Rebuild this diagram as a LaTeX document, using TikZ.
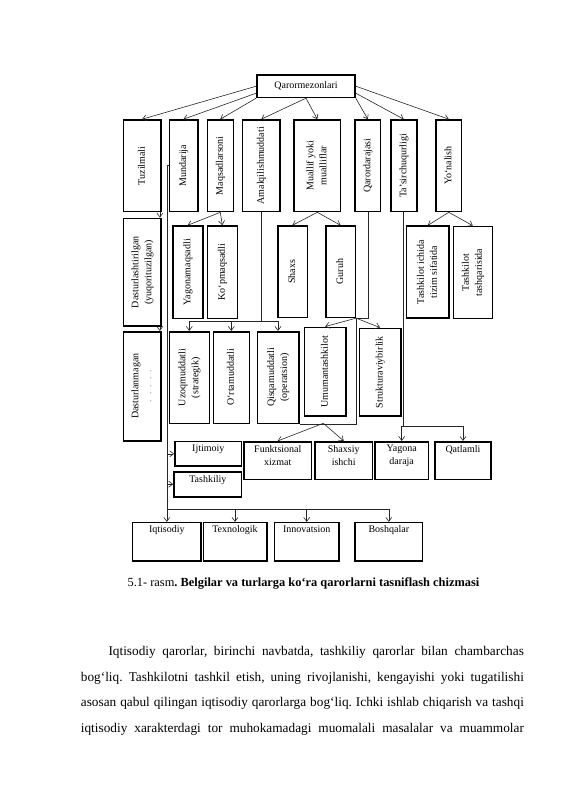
\documentclass[tikz,border=0pt]{standalone}
\usepackage{fontspec}
\setmainfont{Liberation Serif}
\usetikzlibrary{arrows.meta}
\newcommand{\vtxt}[1]{\rotatebox{90}{\begin{tabular}{@{}c@{}}#1\end{tabular}}}
\begin{document}
\frenchspacing
\begin{tikzpicture}[x=1pt, y=-1pt,
  box/.style={draw=black, line width=1.6pt, inner sep=0pt, font=\fontsize{10}{13}\selectfont},
  toptext/.style={anchor=north, align=center, inner sep=0pt, yshift=-4pt, font=\fontsize{10}{13}\selectfont},
  lnk/.style={draw=black!85, line width=0.6pt},
  >={Straight Barb[length=4pt,width=6pt]}]
\useasboundingbox (0,0) rectangle (565,800);
% mezonlar
\node[box, minimum width=98pt, minimum height=22.3pt] (qm) at (306,86.2) {Qarormezonlari};
\node[box, minimum width=37.7pt, minimum height=91.5pt] (tuz) at (142.2,165.75) {\vtxt{Tuzilmali}};
\node[box, minimum width=28.4pt, minimum height=91.5pt] (mund) at (183.5,165.75) {\vtxt{Mundarija}};
\node[box, minimum width=26pt, minimum height=91.5pt] (maq) at (220.3,165.75) {\vtxt{Maqsadlarsoni}};
\node[box, minimum width=37.3pt, minimum height=91.5pt] (amal) at (261.3,165.75) {\vtxt{Amalqilishmuddati}};
\node[box, minimum width=46.7pt, minimum height=91.5pt] (mua) at (317.3,165.75) {\vtxt{Muallif yoki\\mualliflar}};
\node[box, minimum width=25.7pt, minimum height=91.5pt] (qd) at (367.8,165.75) {\vtxt{Qarordarajasi}};
\node[box, minimum width=26pt, minimum height=91.5pt] (ts) at (403.7,165.75) {\vtxt{Ta'sirchuqurligi}};
\node[box, minimum width=25.7pt, minimum height=91.5pt] (yn) at (448.8,165.75) {\vtxt{Yo‘nalish}};
% ikkinchi qator
\node[box, minimum width=37.7pt, minimum height=107.7pt] (dast) at (142.2,272.2) {\vtxt{Dasturlashtirilgan\\(yuqorituzilgan)}};
\node[box, minimum width=30pt, minimum height=92.3pt] (yag) at (187.7,272.2) {\vtxt{Yagonamaqsadli}};
\node[box, minimum width=30pt, minimum height=92.3pt] (kop) at (222.3,272.2) {\vtxt{Ko‘pmaqsadli}};
\node[box, minimum width=29.6pt, minimum height=91.3pt] (shaxs) at (292.5,271.7) {\vtxt{Shaxs}};
\node[box, minimum width=29.6pt, minimum height=91.3pt] (guruh) at (340.5,271.7) {\vtxt{Guruh}};
\node[box, minimum width=42.3pt, minimum height=92pt] (ich) at (427.8,272.2) {\vtxt{Tashkilot ichida\\tizim sifatida}};
\node[box, minimum width=39pt, minimum height=92pt] (tash) at (472.8,272.5) {\vtxt{Tashkilot\\tashqarisida}};
% uchinchi qator
\node[box, minimum width=37.7pt, minimum height=109pt] (dn) at (142.2,386.2) {\vtxt{Dasturlanmagan\\\textcolor{black!45}{.~~.~~.~~.~~.}}};
\node[box, minimum width=40pt, minimum height=91.6pt] (uzoq) at (189.3,377.5) {\vtxt{Uzoqmuddatli\\(strategik)}};
\node[box, minimum width=36pt, minimum height=91.6pt] (ortam) at (231.3,377.5) {\vtxt{O‘rtamuddatli}};
\node[box, minimum width=41.4pt, minimum height=91.6pt] (qisqa) at (278,377.5) {\vtxt{Qisqamuddatli\\(operatsion)}};
\node[box, minimum width=41.7pt, minimum height=88.7pt] (umum) at (325.2,371.7) {\vtxt{Umumantashkilot}};
\node[box, minimum width=41.4pt, minimum height=87.7pt] (struk) at (380,372.2) {\vtxt{Strukturaviybirlik}};
% to'rtinchi qator
\node[box, minimum width=66.7pt, minimum height=24.3pt, label={[toptext]north:Ijtimoiy}] (ijt) at (208.3,453.8) {};
\node[box, minimum width=67.7pt, minimum height=25pt, label={[toptext]north:Tashkiliy}] (tk) at (207.8,484.2) {};
\node[box, minimum width=67.7pt, minimum height=37.6pt, label={[toptext]north:Funktsional\\xizmat}] (fx) at (277.8,460.5) {};
\node[box, minimum width=57.3pt, minimum height=37.6pt, label={[toptext]north:Shaxsiy\\ishchi}] (shi) at (343.7,460.5) {};
\node[box, minimum width=53.3pt, minimum height=37.6pt, label={[toptext]north:Yagona\\daraja}] (yd) at (401.7,460.5) {};
\node[box, minimum width=56pt, minimum height=37.6pt, label={[toptext]north:Qatlamli}] (qat) at (463,460.5) {};
% beshinchi qator
\node[box, minimum width=68.3pt, minimum height=38.3pt, label={[toptext]north:Iqtisodiy}] (iqt) at (166.8,541.8) {};
\node[box, minimum width=63.4pt, minimum height=38.3pt, label={[toptext]north:Texnologik}] (tex) at (235,541.8) {};
\node[box, minimum width=64.7pt, minimum height=38.3pt, label={[toptext]north:Innovatsion}] (inn) at (306.7,541.8) {};
\node[box, minimum width=67.7pt, minimum height=38.3pt, label={[toptext]north:Boshqalar}] (bq) at (388.8,541.8) {};
% strelkalar
\draw [lnk,->] (qm.west) -- (tuz.north);
\draw [lnk,->] (qm.188) -- (mund.north);
\draw [lnk,->] (qm.south west) -- (maq.north);
\draw [lnk,->] (qm.south) -- (amal.north);
\draw [lnk,->] (qm.south) -- (mua.north);
\draw [lnk,->] (qm.south east) -- (qd.north);
\draw [lnk,->] (qm.-8) -- (ts.north);
\draw [lnk,->] (qm.east) -- (yn.north);
\draw [lnk,->] ([xshift=-2pt]tuz.south east) -- ([xshift=-2pt]dast.north east);
\draw [lnk,->] ([xshift=-2pt]dast.south east) -- ([xshift=-2pt]dn.north east);
\draw [lnk,->] (maq.south) -- (yag.north);
\draw [lnk,->] (maq.south) -- (kop.north);
\coordinate (amj) at (261.3,321);
\draw [lnk] (amal.south) -- (amj);
\draw [lnk,->] (amj) -| (uzoq.north);
\draw [lnk,->] (amj) -| (ortam.north);
\draw [lnk,->] (amj) -| (qisqa.north);
\draw [lnk,->] (mua.south) -- (shaxs.north);
\draw [lnk,->] (mua.south) -- (guruh.north);
\draw [lnk] (qd.south) |- (guruh.south east) -- (guruh.south east |- qisqa.south east) -- (qisqa.south east);
\draw [lnk,->] (guruh.south east) -- (umum.north);
\draw [lnk,->] (guruh.south east) -- (struk.north);
\coordinate (qj) at (323.3,423.3);
\draw [lnk,->] (qj) -- (fx.north);
\draw [lnk,->] (qj) -- (shi.north);
\coordinate (tsj) at (403.7,426);
\draw [lnk] (ts.south) -- (tsj);
\draw [lnk,->] (tsj) -| (yd.north);
\draw [lnk,->] (tsj) -| (qat.north);
\draw [lnk,->] (yn.south) -- (ich.north);
\draw [lnk,->] (yn.south) -- (tash.north);
\draw [lnk,->] (mund.west) -| (iqt.north);
\draw [lnk,->] (ijt.west -| iqt.north) -- (ijt.west);
\draw [lnk,->] (tk.west -| iqt.north) -- (tk.west);
\coordinate (bj) at (166.8,509.3);
\draw [lnk,->] (bj) -| (tex.north);
\draw [lnk,->] (bj) -| (inn.north);
\draw [lnk,->] (bj) -| (bq.north);
% matn
\node[anchor=base, inner sep=0pt, font=\fontsize{12.4}{14}\selectfont] (cap) at (303.5,586) {5.1- rasm\textbf{. Belgilar va turlarga ko‘ra qarorlarni tasniflash chizmasi}};
\node[anchor=north west, text width=443pt, align=justify, inner sep=0pt, font=\fontsize{13.3}{25.7}\selectfont] (matn) at (80.7,646) {\parfillskip=0pt\hspace*{27.6pt}Iqtisodiy qarorlar, birinchi navbatda, tashkiliy qarorlar bilan chambarchas\linebreak bog`liq. Tashkilotni tashkil etish, uning rivojlanishi, kengayishi yoki tugatilishi\linebreak asosan qabul qilingan iqtisodiy qarorlarga bog`liq. Ichki ishlab chiqarish va tashqi\linebreak iqtisodiy xarakterdagi tor muhokamadagi muomalali masalalar va muammolar\par};
\end{tikzpicture}
\end{document}
